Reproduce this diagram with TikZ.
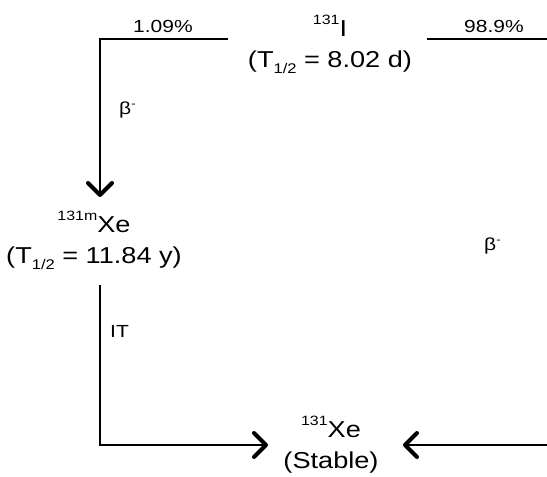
\documentclass[tikz,border=0pt]{standalone}
\usepackage{fontspec}
\setmainfont{Liberation Sans}
\usetikzlibrary{arrows.meta}
\newcommand\isosup[1]{\raisebox{12pt}{\fontsize{13.5}{13.5}\selectfont #1}}
\newcommand\isosub[1]{\raisebox{-6pt}{\fontsize{14}{14}\selectfont #1}}
\newcommand\minusup{\raisebox{7pt}{\fontsize{11}{11}\selectfont -}}

\begin{document}
\begin{tikzpicture}[x=1pt, y=-1pt,
    decay/.style={line width=2pt},
    barb/.style={-{Straight Barb[length=12pt, width=24pt, line width=4pt, round]}},
    nuclide/.style={align=center, font=\fontsize{23}{31}\selectfont, xscale=1.18, inner sep=0pt},
    mode/.style={font=\fontsize{17.5}{17.5}\selectfont, xscale=1.2, inner sep=0pt}]
    \useasboundingbox (0,0) rectangle (547,477);

    % parent nuclide
    \node[nuclide, anchor=base] (i131) at (330,67) {\isosup{131}I\\(T\isosub{1/2} = 8.02 d)};

    % daughter nuclides
    \node[nuclide, anchor=base] (xe131m) at (94,263) {\isosup{131m}Xe\\(T\isosub{1/2} = 11.84 y)};
    \node[nuclide, anchor=base] (xe131) at (331,468) {\isosup{131}Xe\\(Stable)};

    % branch to 131mXe
    \coordinate (lbeg) at (228,39);
    \coordinate (lcor) at (100,39);
    \coordinate (lend) at (100,197);
    \draw[decay, barb] (lbeg) -- (lcor) -- (lend);
    \node[mode, anchor=base] (br1) at (163,32) {1.09\%};
    \node[mode, anchor=base west] (beta1) at (119,114) {β\minusup};

    % branch to 131Xe
    \coordinate (rbeg) at (427,39);
    \coordinate (rtop) at (547,39);
    \draw[decay] (rbeg) -- (rtop);
    \node[mode, anchor=base] (br2) at (494,32) {98.9\%};
    \node[mode, anchor=base west] (beta2) at (484,250) {β\minusup};
    \coordinate (rbot) at (547,445);
    \coordinate (rend) at (403,445);
    \draw[decay, barb] (rbot) -- (rend);

    % isomeric transition
    \coordinate (ibeg) at (100,285);
    \coordinate (icor) at (100,445);
    \coordinate (iend) at (268,445);
    \draw[decay, barb] (ibeg) -- (icor) -- (iend);
    \node[mode, anchor=base west] (it) at (110,337) {IT};
\end{tikzpicture}
\end{document}
